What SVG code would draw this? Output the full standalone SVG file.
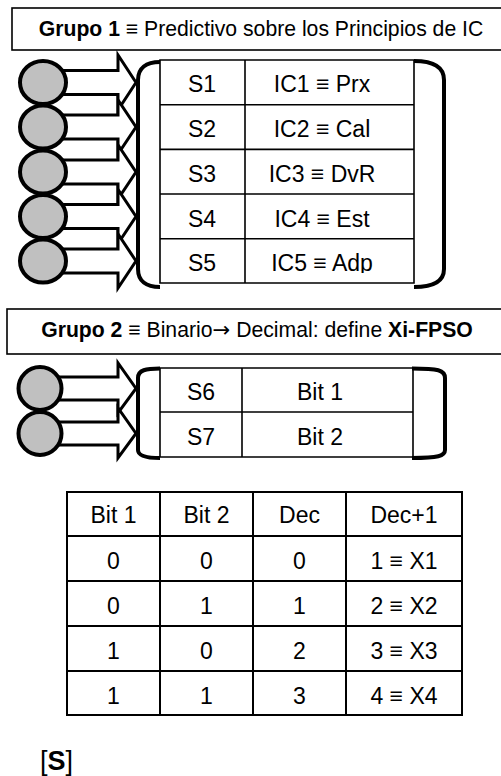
<svg xmlns="http://www.w3.org/2000/svg" width="501" height="776" viewBox="0 0 501 776">
<style>
text{font-family:"Liberation Sans",Arial,sans-serif;fill:#000;text-anchor:middle}
.t{font-size:21.2px}
.c{font-size:23px}
.b{font-weight:bold}
.ar{font-family:"DejaVu Sans",sans-serif}
.box{fill:#fff;stroke:#000;stroke-width:1.6}
.circ{fill:#c0c0c0;stroke:#000;stroke-width:4}
.arr{fill:#fff;stroke:#000;stroke-width:3;stroke-linejoin:miter}
.brk{fill:none;stroke:#000;stroke-width:4}
.grid{fill:none;stroke:#000;stroke-width:1.6}
.grid2{fill:none;stroke:#000;stroke-width:2}
</style>
<defs>
<clipPath id="clipRow5"><rect x="245" y="239" width="169" height="34"/></clipPath>
</defs>
<rect width="501" height="776" fill="#fff"/>

<g id="title1">
<rect class="box" x="12" y="8" width="500" height="42"/>
<text class="t" x="261" y="36"><tspan class="b">Grupo 1</tspan> ≡ Predictivo sobre los Principios de IC</text>
</g>

<g id="connectors">
<polygon class="arr" points="60,70.5 118,70.5 118,55 136,82.5 118,110 118,94.5 60,94.5"/>
<polygon class="arr" points="60,115 118,115 118,100 136,127 118,154 118,139 60,139"/>
<polygon class="arr" points="60,160 118,160 118,145 136,172 118,199 118,184 60,184"/>
<polygon class="arr" points="60,204.5 118,204.5 118,189.5 136,216.5 118,243.5 118,228.5 60,228.5"/>
<polygon class="arr" points="60,249 118,249 118,234 136,261 118,288 118,273 60,273"/>
<polygon class="arr" points="58,377 118,377 118,363 136,388.5 118,413 118,400 58,400"/>
<polygon class="arr" points="58,422 118,422 118,408 136,433.5 118,458 118,445 58,445"/>
</g>

<g id="group1-inputs">
<ellipse class="circ" cx="43" cy="82.5" rx="23" ry="21.5"/>
<ellipse class="circ" cx="43" cy="127" rx="23" ry="21.5"/>
<ellipse class="circ" cx="43" cy="172" rx="23" ry="21.5"/>
<ellipse class="circ" cx="43" cy="216.5" rx="23" ry="21.5"/>
<ellipse class="circ" cx="43" cy="261" rx="23" ry="21.5"/>
</g>

<g id="group1-table">
<rect fill="#fff" x="160" y="60" width="254" height="223"/>
<path class="grid" d="M160,60H414V283H160Z M245,60V283 M160,104.7H414 M160,149.4H414 M160,194H414 M160,238.8H414"/>
<path class="brk" d="M160,62 C146,62 138,68 138,80 L138,269 C138,281 146,287 160,287"/>
<path class="brk" d="M414,61 C432,61 444,66 444,80 L444,269 C444,282 432,287 414,287"/>
<text class="c" x="202" y="92">S1</text>
<text class="c" x="322" y="92">IC1 ≡ Prx</text>
<text class="c" x="202" y="137">S2</text>
<text class="c" x="322" y="137">IC2 ≡ Cal</text>
<text class="c" x="202" y="182">S3</text>
<text class="c" x="322" y="182">IC3 ≡ DvR</text>
<text class="c" x="202" y="226.5">S4</text>
<text class="c" x="322" y="226.5">IC4 ≡ Est</text>
<text class="c" x="202" y="271">S5</text>
<text class="c" x="322" y="271" clip-path="url(#clipRow5)">IC5 ≡ Adp</text>
</g>

<g id="title2">
<rect class="box" x="7" y="309" width="505" height="45"/>
<text class="t" x="257" y="337"><tspan class="b">Grupo 2</tspan> ≡ Binario<tspan class="ar">→</tspan> Decimal: define <tspan class="b">Xi-FPSO</tspan></text>
</g>

<g id="group2-inputs">
<circle class="circ" cx="40" cy="388.5" r="21.5"/>
<circle class="circ" cx="40" cy="433.5" r="21.5"/>
</g>

<g id="group2-table">
<rect fill="#fff" x="160" y="368" width="253" height="89"/>
<path class="grid" d="M160,368H413V457H160Z M242,368V457 M160,412H413"/>
<path class="brk" d="M160,368.5 C146,368.5 138,370 138,378 L138,450 C138,456 146,458 160,458"/>
<path class="brk" d="M412,368.5 C438,368.5 445,370 445,378 L445,450 C445,456 438,458 412,458"/>
<text class="c" x="201" y="400">S6</text>
<text class="c" x="320" y="400">Bit 1</text>
<text class="c" x="201" y="444.5">S7</text>
<text class="c" x="320" y="444.5">Bit 2</text>
</g>

<g id="truth-table">
<path class="grid2" d="M67,492H462V715H67Z M160,492V715 M253,492V715 M346,492V715 M67,536H462 M67,581H462 M67,626H462 M67,671H462"/>
<text class="c" x="113.5" y="523">Bit 1</text>
<text class="c" x="206.5" y="523">Bit 2</text>
<text class="c" x="299.5" y="523">Dec</text>
<text class="c" x="404" y="523">Dec+1</text>
<text class="c" x="113.5" y="569">0</text>
<text class="c" x="206.5" y="569">0</text>
<text class="c" x="299.5" y="569">0</text>
<text class="c" x="404" y="569">1 ≡ X1</text>
<text class="c" x="113.5" y="614">0</text>
<text class="c" x="206.5" y="614">1</text>
<text class="c" x="299.5" y="614">1</text>
<text class="c" x="404" y="614">2 ≡ X2</text>
<text class="c" x="113.5" y="659">1</text>
<text class="c" x="206.5" y="659">0</text>
<text class="c" x="299.5" y="659">2</text>
<text class="c" x="404" y="659">3 ≡ X3</text>
<text class="c" x="113.5" y="703.5">1</text>
<text class="c" x="206.5" y="703.5">1</text>
<text class="c" x="299.5" y="703.5">3</text>
<text class="c" x="404" y="703.5">4 ≡ X4</text>
</g>

<g id="source">
<text x="40" y="770" style="font-size:27px;text-anchor:start">[<tspan class="b">S</tspan>]</text>
</g>
</svg>
